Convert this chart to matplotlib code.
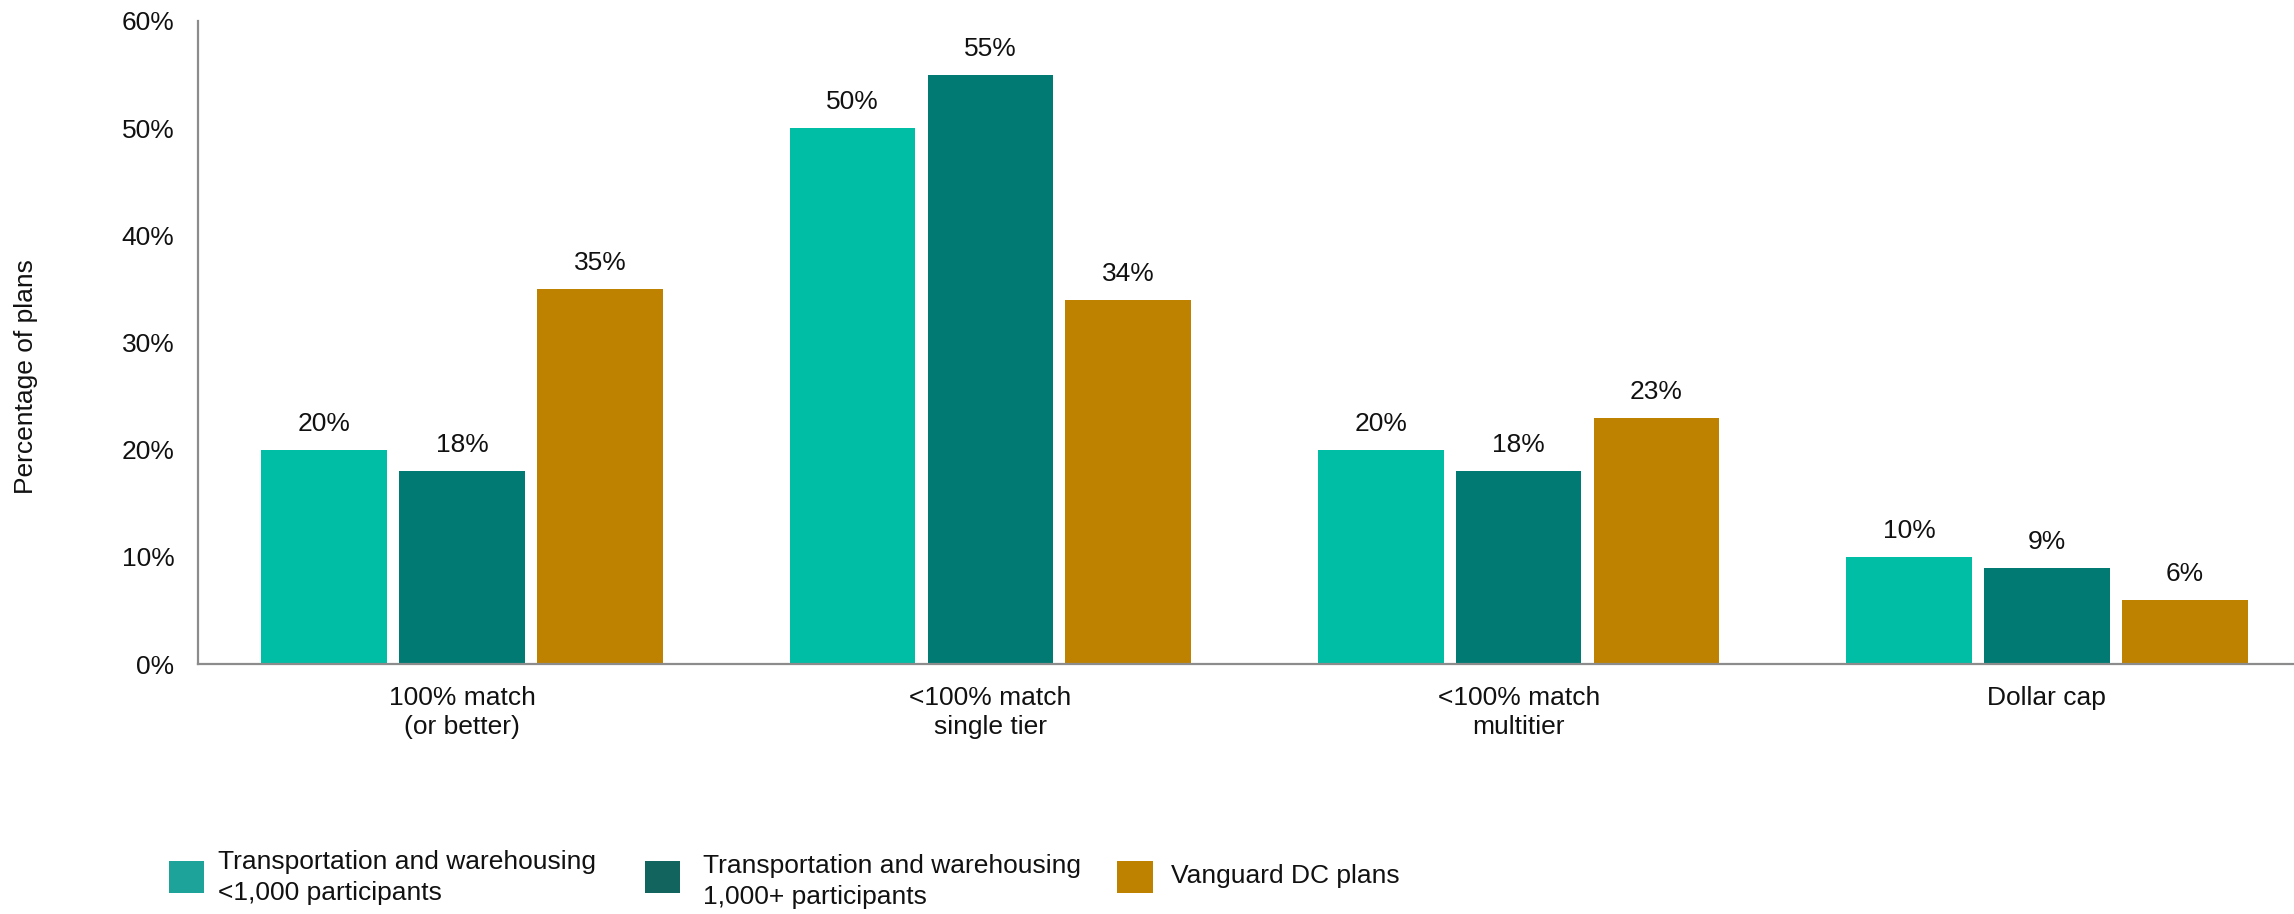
import matplotlib
matplotlib.use("Agg")
import matplotlib.pyplot as plt
import numpy as np

plt.rcParams['font.family'] = ['Liberation Sans', 'DejaVu Sans']

categories = ["100% match\n(or better)", "<100% match\nsingle tier", "<100% match\nmultitier", "Dollar cap"]
series_names = ["Transportation and warehousing\n<1,000 participants",
                "Transportation and warehousing\n1,000+ participants",
                "Vanguard DC plans"]
small_plans = [20, 50, 20, 10]
large_plans = [18, 55, 18, 9]
vanguard = [35, 34, 23, 6]
y_ticks = [0, 10, 20, 30, 40, 50, 60]

bar_colors = ["#00BDA5", "#007A73", "#BF8200"]
legend_colors = ["#1DA39A", "#12645F", "#BF8200"]

W, H = 2294, 914
fig = plt.figure(figsize=(W / 100, H / 100), dpi=100)
left = 198 / W
right = 2311 / W
bottom = 1 - 664 / H
top = 1 - 21 / H
ax = fig.add_axes([left, bottom, right - left, top - bottom])

x = np.arange(len(categories))
step = 0.261
width = 0.238
fs = 19
for i, (vals, col) in enumerate(zip([small_plans, large_plans, vanguard], bar_colors)):
    xs = x + (i - 1) * step
    bars = ax.bar(xs, vals, width=width, color=col, zorder=2)
    for b, v in zip(bars, vals):
        ax.annotate(f"{v}%", (b.get_x() + b.get_width() / 2, v), xytext=(0, 10),
                    textcoords="offset points", ha="center", va="bottom",
                    fontsize=fs, color="#111111")

ax.set_xlim(-0.5, 3.5)
ax.set_ylim(0, 60)
ax.set_yticks(y_ticks)
ax.set_yticklabels([f"{t}%" for t in y_ticks], fontsize=fs, color="#111111")
ax.set_xticks(x)
ax.set_xticklabels(categories, fontsize=fs, color="#111111", linespacing=1.25)
ax.tick_params(axis='both', length=0)
ax.tick_params(axis='y', pad=17)
ax.tick_params(axis='x', pad=16)
for s in ["top", "right"]:
    ax.spines[s].set_visible(False)
for s in ["left", "bottom"]:
    ax.spines[s].set_color("#8C8C8C")
    ax.spines[s].set_linewidth(1.6)

fig.text(26 / W, 1 - 377 / H, "Percentage of plans", rotation=90, ha="center", va="center",
         fontsize=fs, color="#111111")

# legend entries
sq_x = [169, 645, 1117]
sq_w = [35, 35, 36]
sq_top = [861, 861, 861]
sq_h = 32
text_x = [218, 703, 1171]
text_cy = [877.5, 881.5, 876.5]
for lx, lw, lt, tx, ty, col, name in zip(sq_x, sq_w, sq_top, text_x, text_cy, legend_colors, series_names):
    fig.patches.append(plt.Rectangle((lx / W, 1 - (lt + sq_h) / H), lw / W, sq_h / H,
                                     transform=fig.transFigure, facecolor=col, edgecolor="none"))
    fig.text(tx / W, 1 - ty / H, name, ha="left", va="center", fontsize=fs,
             color="#111111", linespacing=1.4)

fig.savefig("out.png", dpi=100)
